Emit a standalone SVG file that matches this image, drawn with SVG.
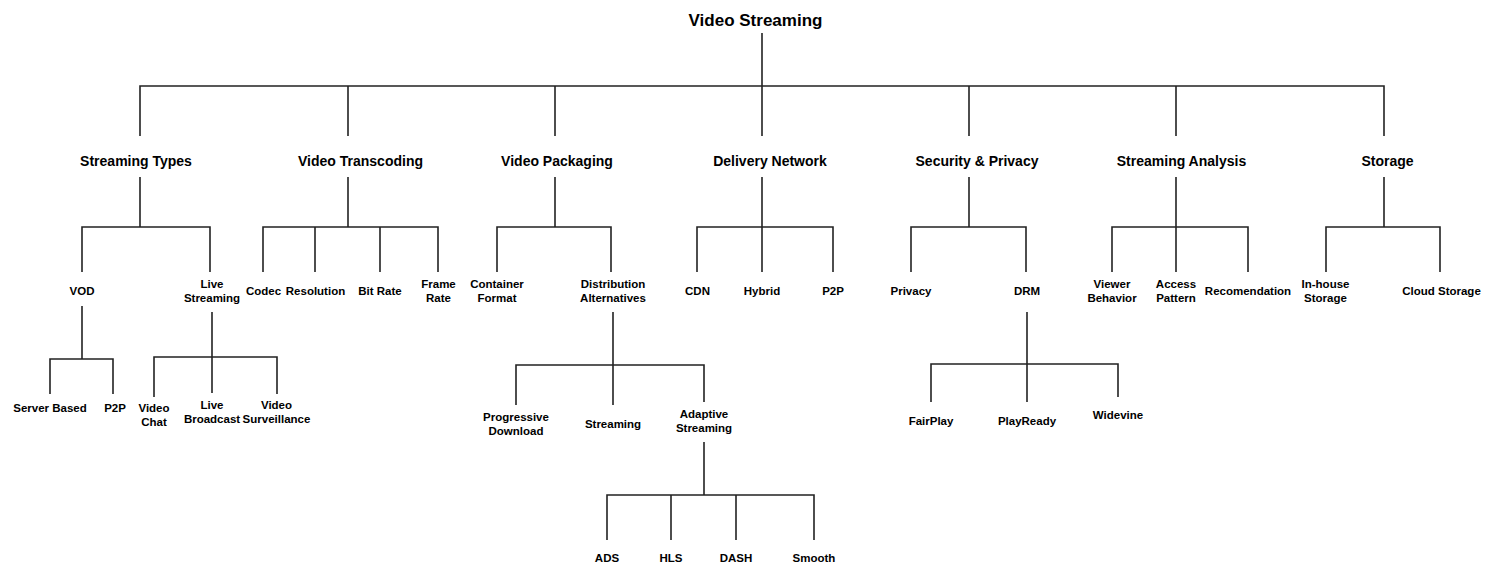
<svg xmlns="http://www.w3.org/2000/svg" width="1494" height="566" viewBox="0 0 1494 566">
<style>
text{font-family:"Liberation Sans",Arial,sans-serif;font-weight:bold;fill:#000;text-anchor:middle}
.t0{font-size:17px}
.t1{font-size:14px}
.t2{font-size:11.5px}
.c path{fill:none;stroke:#222;stroke-width:1.6}
</style>
<rect width="1494" height="566" fill="#fff"/>
<g class="c" id="connectors">
<path d="M762 33V86M140 136V86H1384V136M348 86V136M555 86V136M762 86V136M969 86V136M1176 86V136"/>
<path d="M140 177V227M82 272V227H210V272"/>
<path d="M348 177V227M263 272V227H438V272M315 227V272M380 227V272"/>
<path d="M555 177V227M497 272V227H611V272"/>
<path d="M762 177V227M697 272V227H833V272M762 227V272"/>
<path d="M969 177V227M911 272V227H1026V272"/>
<path d="M1176 177V227M1112 272V227H1248V272M1176 227V272"/>
<path d="M1384 177V227M1326 272V227H1440V272"/>
<path d="M82 306V359M50 394V359H113V394"/>
<path d="M212 312V357M154 397V357H277V394M212 357V393"/>
<path d="M613 312V365M516 405V365H704V402M613 365V405"/>
<path d="M704 442V495M607 540V495H814V540M671 495V540M736 495V540"/>
<path d="M1027 312V364M931 402V364H1118V397M1027 364V402"/>
</g>
<g id="root"><text class="t0" x="755.5" y="26">Video Streaming</text></g>
<g id="streaming-types"><text class="t1" x="136" y="166">Streaming Types</text></g>
<g id="video-transcoding"><text class="t1" x="360.5" y="166">Video Transcoding</text></g>
<g id="video-packaging"><text class="t1" x="557" y="166">Video Packaging</text></g>
<g id="delivery-network"><text class="t1" x="770" y="166">Delivery Network</text></g>
<g id="security-privacy"><text class="t1" x="977" y="166">Security &amp; Privacy</text></g>
<g id="streaming-analysis"><text class="t1" x="1181.5" y="166">Streaming Analysis</text></g>
<g id="storage"><text class="t1" x="1387.5" y="166">Storage</text></g>
<g id="vod"><text class="t2" x="82" y="295">VOD</text></g>
<g id="live-streaming"><text class="t2" x="212" y="288">Live</text><text class="t2" x="212" y="302">Streaming</text></g>
<g id="codec"><text class="t2" x="263.5" y="295">Codec</text></g>
<g id="resolution"><text class="t2" x="315.5" y="295">Resolution</text></g>
<g id="bit-rate"><text class="t2" x="380" y="295">Bit Rate</text></g>
<g id="frame-rate"><text class="t2" x="438.5" y="288">Frame</text><text class="t2" x="438.5" y="302">Rate</text></g>
<g id="container-format"><text class="t2" x="497" y="288">Container</text><text class="t2" x="497" y="302">Format</text></g>
<g id="distribution-alternatives"><text class="t2" x="613" y="288">Distribution</text><text class="t2" x="613" y="302">Alternatives</text></g>
<g id="cdn"><text class="t2" x="697.5" y="295">CDN</text></g>
<g id="hybrid"><text class="t2" x="762" y="295">Hybrid</text></g>
<g id="p2p-delivery"><text class="t2" x="833" y="295">P2P</text></g>
<g id="privacy"><text class="t2" x="911" y="295">Privacy</text></g>
<g id="drm"><text class="t2" x="1027" y="295">DRM</text></g>
<g id="viewer-behavior"><text class="t2" x="1112" y="288">Viewer</text><text class="t2" x="1112" y="302">Behavior</text></g>
<g id="access-pattern"><text class="t2" x="1176" y="288">Access</text><text class="t2" x="1176" y="302">Pattern</text></g>
<g id="recomendation"><text class="t2" x="1248" y="295">Recomendation</text></g>
<g id="in-house-storage"><text class="t2" x="1325.5" y="288">In-house</text><text class="t2" x="1325.5" y="302">Storage</text></g>
<g id="cloud-storage"><text class="t2" x="1441.5" y="295">Cloud Storage</text></g>
<g id="server-based"><text class="t2" x="50" y="412">Server Based</text></g>
<g id="p2p-vod"><text class="t2" x="115" y="412">P2P</text></g>
<g id="video-chat"><text class="t2" x="154" y="412">Video</text><text class="t2" x="154" y="426">Chat</text></g>
<g id="live-broadcast"><text class="t2" x="212" y="408.5">Live</text><text class="t2" x="212" y="422.5">Broadcast</text></g>
<g id="video-surveillance"><text class="t2" x="276.5" y="408.5">Video</text><text class="t2" x="276.5" y="422.5">Surveillance</text></g>
<g id="progressive-download"><text class="t2" x="516" y="421">Progressive</text><text class="t2" x="516" y="435">Download</text></g>
<g id="streaming"><text class="t2" x="613" y="428">Streaming</text></g>
<g id="adaptive-streaming"><text class="t2" x="704" y="418">Adaptive</text><text class="t2" x="704" y="432">Streaming</text></g>
<g id="ads"><text class="t2" x="607" y="562">ADS</text></g>
<g id="hls"><text class="t2" x="671" y="562">HLS</text></g>
<g id="dash"><text class="t2" x="736" y="562">DASH</text></g>
<g id="smooth"><text class="t2" x="814" y="562">Smooth</text></g>
<g id="fairplay"><text class="t2" x="931" y="425">FairPlay</text></g>
<g id="playready"><text class="t2" x="1027" y="425">PlayReady</text></g>
<g id="widevine"><text class="t2" x="1118" y="419">Widevine</text></g>
</svg>
